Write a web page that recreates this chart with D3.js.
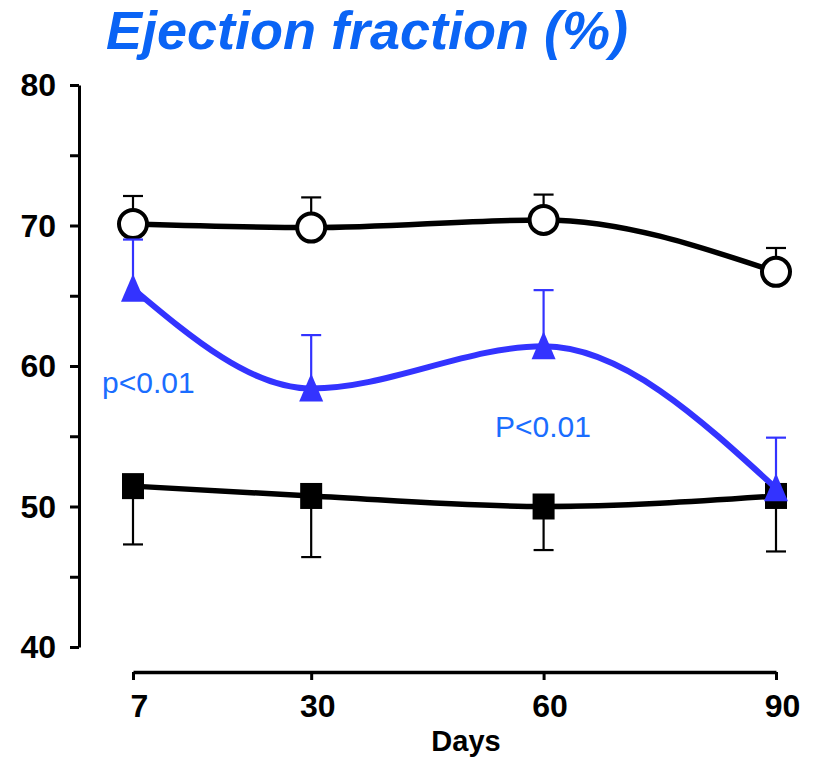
<!DOCTYPE html>
<html>
<head>
<meta charset="utf-8">
<script src="https://cdn.jsdelivr.net/npm/d3@7"></script>
<style>
  html, body { margin: 0; padding: 0; background: #fff; }
  svg { display: block; font-family: Arial, "Liberation Sans", Helvetica, sans-serif; }
</style>
</head>
<body>
<svg id="chart" width="813" height="759"></svg>
<script>
// Days of follow-up
const days = [7, 30, 60, 90];

// Group with open circles (mean and upper SD)
const circleMean = [70.1, 69.85, 70.4, 66.7];
const circleUpper = [72.1, 72.0, 72.2, 68.4];

// Group with blue triangles (mean and upper SD)
const triangleMean = [65.5, 58.4, 61.4, 51.3];
const triangleUpper = [69.0, 62.2, 65.4, 54.9];

// Group with filled squares (mean and lower SD)
const squareMean = [51.45, 50.75, 50.0, 50.75];
const squareLower = [47.3, 46.4, 46.9, 46.8];

// Axis ticks
const yTicks = [40, 45, 50, 55, 60, 65, 70, 75, 80];
const yTickLabels = [40, 50, 60, 70, 80];
const xTicks = [7, 30, 60, 90];

const svg = d3.select("#chart");

const x = d3.scaleLinear().domain([7, 90]).range([133, 776]);
const y = d3.scaleLinear().domain([40, 80]).range([647, 85]);

const BLACK = "#000";
const BLUE = "#3333ff";
const TEXT_BLUE = "#1a6dff";
const TITLE_BLUE = "#0a64f5";
const FONT = "Arial, 'Liberation Sans', sans-serif";

// Title
svg.append("text")
  .attr("x", 367).attr("y", 49)
  .attr("text-anchor", "middle")
  .attr("font-size", 54).attr("font-weight", "bold").attr("font-style", "italic")
  .attr("fill", TITLE_BLUE)
  .text("Ejection fraction (%)");

// Y axis
const yAxis = d3.axisLeft(y).tickValues(yTicks).tickSize(9).tickSizeOuter(0)
  .tickFormat(d => yTickLabels.includes(d) ? d : "");
const gy = svg.append("g").attr("transform", "translate(79,0)").call(yAxis);
gy.attr("font-family", FONT);
gy.select(".domain").attr("stroke", BLACK).attr("stroke-width", 3);
gy.selectAll(".tick line").attr("stroke", BLACK).attr("stroke-width", 3);
gy.selectAll(".tick text")
  .attr("x", -23).attr("dy", "0.34em")
  .style("font-size", "32px").style("font-weight", "bold")
  .attr("fill", BLACK);

// X axis
const xAxis = d3.axisBottom(x).tickValues(xTicks).tickSize(8).tickSizeOuter(0);
const gx = svg.append("g").attr("transform", "translate(0,672)").call(xAxis);
gx.attr("font-family", FONT);
gx.select(".domain").attr("stroke", BLACK).attr("stroke-width", 3.5);
gx.selectAll(".tick line").attr("stroke", BLACK).attr("stroke-width", 3);
gx.selectAll(".tick text")
  .attr("y", 22).attr("dx", 6).attr("dy", "0.71em")
  .style("font-size", "32px").style("font-weight", "bold")
  .attr("fill", BLACK);

svg.append("text")
  .attr("x", 466).attr("y", 751)
  .attr("text-anchor", "middle")
  .style("font-size", "29px").style("font-weight", "bold").attr("fill", BLACK)
  .text("Days");

// Smoothed connecting lines
const line = d3.line().x(d => x(d[0])).y(d => y(d[1])).curve(d3.curveMonotoneX);
const zip = arr => days.map((d, i) => [d, arr[i]]);

svg.append("path").datum(zip(squareMean))
  .attr("d", line).attr("fill", "none").attr("stroke", BLACK).attr("stroke-width", 5.5);
svg.append("path").datum(zip(circleMean))
  .attr("d", line).attr("fill", "none").attr("stroke", BLACK).attr("stroke-width", 5.5);

// Error bars (one-sided)
function errorBars(mean, bound, color) {
  const g = svg.append("g").attr("stroke", color).attr("stroke-width", 2.2);
  days.forEach((d, i) => {
    g.append("line")
      .attr("x1", x(d)).attr("x2", x(d))
      .attr("y1", y(mean[i])).attr("y2", y(bound[i]));
    g.append("line")
      .attr("x1", x(d) - 10).attr("x2", x(d) + 10)
      .attr("y1", y(bound[i])).attr("y2", y(bound[i]));
  });
}
errorBars(circleMean, circleUpper, BLACK);
errorBars(squareMean, squareLower, BLACK);

// Squares
svg.append("g").selectAll("rect").data(zip(squareMean)).join("rect")
  .attr("x", d => x(d[0]) - 11).attr("y", d => y(d[1]) - 13)
  .attr("width", 22).attr("height", 26)
  .attr("fill", BLACK);

// Circles
svg.append("g").selectAll("circle").data(zip(circleMean)).join("circle")
  .attr("cx", d => x(d[0])).attr("cy", d => y(d[1]))
  .attr("r", 14)
  .attr("fill", "#fff").attr("stroke", BLACK).attr("stroke-width", 4);

// Blue series drawn on top
svg.append("path").datum(zip(triangleMean))
  .attr("d", line).attr("fill", "none").attr("stroke", BLUE).attr("stroke-width", 6);
errorBars(triangleMean, triangleUpper, BLUE);

// Tall upward triangle marker
const triangleShape = {
  draw(ctx) {
    ctx.moveTo(0, -15);
    ctx.lineTo(12, 13);
    ctx.lineTo(-12, 13);
    ctx.closePath();
  }
};
const tri = d3.symbol().type(triangleShape);
svg.append("g").selectAll("path").data(zip(triangleMean)).join("path")
  .attr("transform", d => `translate(${x(d[0])},${y(d[1])})`)
  .attr("d", tri)
  .attr("fill", BLUE);

// Significance labels
svg.append("text")
  .attr("x", 102).attr("y", 393)
  .style("font-size", "30px").attr("fill", TEXT_BLUE)
  .text("p<0.01");
svg.append("text")
  .attr("x", 495).attr("y", 437)
  .style("font-size", "30px").attr("fill", TEXT_BLUE)
  .text("P<0.01");
</script>
</body>
</html>
